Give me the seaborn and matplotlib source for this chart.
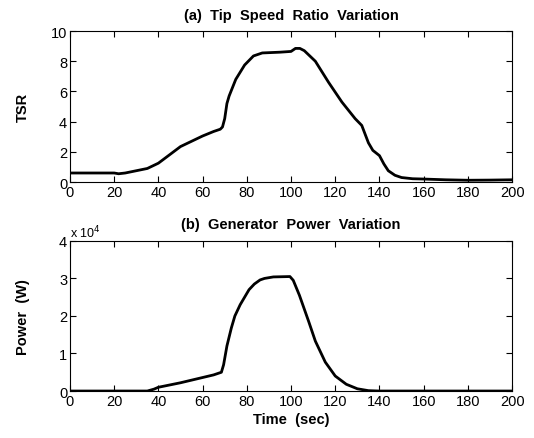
import matplotlib
matplotlib.use("Agg")
from matplotlib import pyplot as plt
import seaborn as sb
import pandas as pd

# Tip speed ratio readings
tsr_time = [0, 10, 20, 22, 25, 30, 35, 40, 45, 50, 55, 60, 65, 68, 69, 70, 71, 72, 75, 79,
            83, 87, 95, 100, 102, 104, 106, 111, 117, 123, 129, 132, 135, 137, 140, 142,
            144, 147, 150, 155, 160, 170, 180, 190, 200]
tsr = [0.6, 0.6, 0.6, 0.55, 0.6, 0.75, 0.9, 1.25, 1.8, 2.35, 2.7, 3.05, 3.35, 3.5, 3.65,
       4.2, 5.2, 5.7, 6.8, 7.75, 8.35, 8.55, 8.6, 8.65, 8.85, 8.85, 8.7, 8.0, 6.6, 5.3,
       4.2, 3.75, 2.6, 2.1, 1.75, 1.2, 0.75, 0.45, 0.3, 0.22, 0.2, 0.15, 0.12, 0.13, 0.15]

# Generator power readings (x 10^4 W)
pow_time = [0, 20, 35, 38, 40, 50, 60, 65, 68.5, 69.5, 71, 73, 74.6, 77, 79, 81, 83.4, 86,
            88, 92, 99.5, 101, 103.8, 108, 111, 115.5, 120, 125, 130, 135, 140, 170, 200]
power = [0, 0, 0, 0.05, 0.1, 0.22, 0.36, 0.43, 0.5, 0.7, 1.2, 1.68, 2.0, 2.3, 2.5, 2.7,
         2.85, 2.96, 3.0, 3.04, 3.05, 2.95, 2.55, 1.85, 1.33, 0.77, 0.4, 0.18, 0.06, 0.01,
         0, 0, 0]

x_ticks = list(range(0, 201, 20))

sb.set_style("ticks", {"xtick.direction": "in", "ytick.direction": "in"})
plt.rcParams['font.family'] = ['Liberation Sans', 'DejaVu Sans']
plt.rcParams['text.color'] = 'black'
plt.rcParams['axes.labelcolor'] = 'black'

df_a = pd.DataFrame({"t": tsr_time, "v": tsr})
df_b = pd.DataFrame({"t": pow_time, "v": power})

fig = plt.figure(figsize=(5.34, 4.39), dpi=100)
ax1 = fig.add_axes([0.131, 0.583, 0.828, 0.344])
ax2 = fig.add_axes([0.131, 0.107, 0.828, 0.342])

bold = {"family": ["Liberation Sans", "DejaVu Sans"], "weight": "bold", "size": 10.5,
        "color": "black"}

sb.lineplot(data=df_a, x="t", y="v", ax=ax1, color="black", linewidth=2)
ax1.set_xlim(0, 200)
ax1.set_ylim(0, 10)
ax1.set_yticks([0, 2, 4, 6, 8, 10])
ax1.set_title("(a)  Tip  Speed  Ratio  Variation", fontdict=bold, pad=9)
ax1.set_ylabel("TSR", fontdict=bold)
ax1.set_xlabel("")

sb.lineplot(data=df_b, x="t", y="v", ax=ax2, color="black", linewidth=2)
ax2.set_xlim(0, 200)
ax2.set_ylim(0, 4)
ax2.set_yticks([0, 1, 2, 3, 4])
ax2.set_title("(b)  Generator  Power  Variation", fontdict=bold, pad=9)
ax2.set_ylabel("Power  (W)", fontdict=bold)
ax2.set_xlabel("Time  (sec)", fontdict=bold, labelpad=3)
ax2.text(0.0, 1.025, "x 10$^4$", transform=ax2.transAxes, fontsize=9, color="black")

for ax in (ax1, ax2):
    ax.set_xticks(x_ticks)
    ax.yaxis.set_label_coords(-0.09, 0.5)
    ax.tick_params(direction="in", length=4, width=0.8, labelsize=10.5, pad=2,
                   colors="black", top=True, right=True, bottom=True, left=True)
    for s in ax.spines.values():
        s.set_visible(True)
        s.set_color("black")
        s.set_linewidth(0.8)

fig.savefig("out.png", dpi=100)
